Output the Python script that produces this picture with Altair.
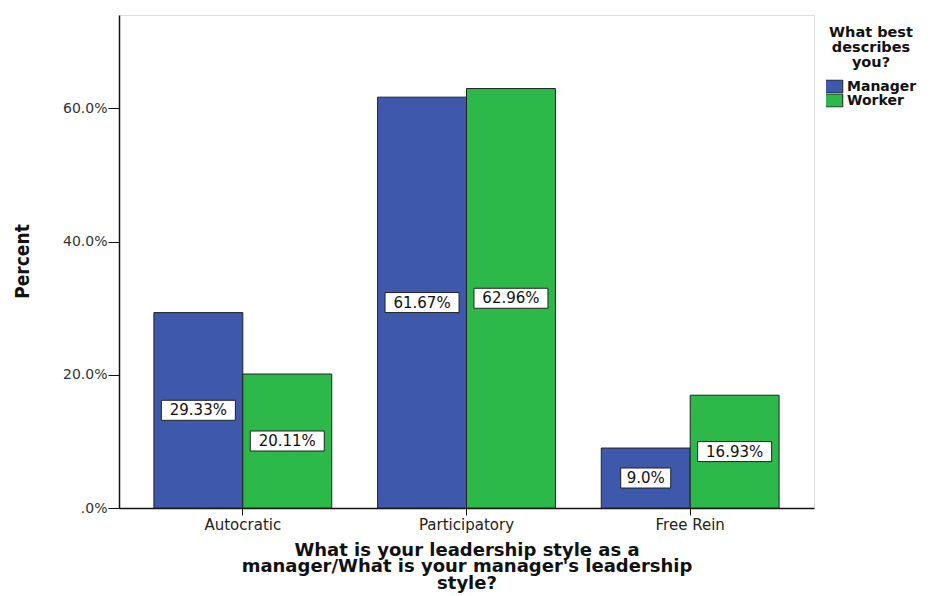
import altair as alt
import pandas as pd

styles = ["Autocratic", "Participatory", "Free Rein"]
groups = ["Manager", "Worker"]
manager_pct = [29.33, 61.67, 9.0]
worker_pct = [20.11, 62.96, 16.93]
manager_labels = ["29.33%", "61.67%", "9.0%"]
worker_labels = ["20.11%", "62.96%", "16.93%"]
y_ticks = [0, 20, 40, 60]
colors = ["#3E58AC", "#2DB84A"]

rows = []
for i, s in enumerate(styles):
    rows.append({"style": s, "group": "Manager", "pct": manager_pct[i], "label": manager_labels[i]})
    rows.append({"style": s, "group": "Worker", "pct": worker_pct[i], "label": worker_labels[i]})
df = pd.DataFrame(rows)


def box_path(text):
    w = (12 * len(text) + 2) / 100
    h = 0.2
    return f"M{-w},{-h}H{w}V{h}H{-w}Z"


df["box"] = df["label"].map(box_path)

FONT = "DejaVu Sans"
NARROW = "DejaVu Sans Condensed, Liberation Sans Narrow, Arial Narrow, sans-serif"

x_axis = alt.Axis(
    title=["What is your leadership style as a",
           "manager/What is your manager's leadership",
           "style?"],
    titleFont=FONT, titleFontSize=18, titleFontWeight="bold", titleColor="#111",
    titleLineHeight=16.5, titlePadding=9,
    labelFont=FONT, labelFontSize=15, labelColor="#222", labelAngle=0, labelPadding=2,
    tickSize=7, tickColor="#111", bandPosition=0.5,
    domainColor="#111", domainWidth=1.5, grid=False,
)
y_axis = alt.Axis(
    title="Percent", titleFont=NARROW, titleFontSize=19,
    titleFontWeight="bold", titleColor="#111", titleAngle=270,
    titleX=-97, titleY=246, titleAlign="center", titleBaseline="middle",
    values=y_ticks,
    labelExpr="datum.value == 0 ? '.0%' : format(datum.value, '.1f') + '%'",
    labelFont=FONT, labelFontSize=14, labelColor="#333", labelPadding=1,
    tickSize=11, tickColor="#111", domainColor="#111", domainWidth=1.5, grid=False,
)
x_scale = alt.Scale(paddingInner=0.205, paddingOuter=0.156)
y_scale = alt.Scale(domain=[0, 74], nice=False, zero=True)
xoff = alt.XOffset("group:N", sort=groups, scale=alt.Scale(paddingInner=0, paddingOuter=0))

base = alt.Chart(df).transform_calculate(mid="datum.pct / 2")

bars = base.mark_bar(stroke="#222", strokeWidth=1, opacity=1).encode(
    x=alt.X("style:N", sort=styles, scale=x_scale, axis=x_axis),
    xOffset=xoff,
    y=alt.Y("pct:Q", scale=y_scale, axis=y_axis),
    color=alt.Color(
        "group:N",
        scale=alt.Scale(domain=groups, range=colors),
        legend=alt.Legend(
            orient="none", legendX=707, legendY=11,
            title=["What best", "describes", "you?"],
            titleFont=FONT, titleFontSize=14.5, titleFontWeight="bold", titleColor="#111",
            titleAlign="center", titleAnchor="middle", titleLineHeight=15, titlePadding=9,
            labelFont=FONT, labelFontSize=14, labelFontWeight="bold", labelColor="#111",
            symbolType="M-1.5,-1H1.5V1H-1.5Z", symbolSize=169,
            symbolStrokeColor="#222", symbolStrokeWidth=1, symbolOpacity=1,
            labelOffset=7, rowPadding=0, clipHeight=14,
        ),
    ),
)

boxes = base.mark_point(filled=True, fill="white", stroke="#222", strokeWidth=1,
                        opacity=1, size=10000).encode(
    x=alt.X("style:N", sort=styles, scale=x_scale, axis=x_axis),
    xOffset=xoff,
    y=alt.Y("mid:Q", scale=y_scale, axis=y_axis),
    shape=alt.Shape("box:N", scale=None),
)

texts = base.mark_text(font=FONT, fontSize=15, color="#111", baseline="middle",
                       align="center").encode(
    x=alt.X("style:N", sort=styles, scale=x_scale, axis=x_axis),
    xOffset=xoff,
    y=alt.Y("mid:Q", scale=y_scale, axis=y_axis),
    text="label:N",
)

chart = alt.layer(bars, boxes, texts).properties(
    width=695, height=493,
    autosize=alt.AutoSizeParams(type="none"),
    padding={"left": 111, "top": 7, "right": 115, "bottom": 88},
).configure_view(
    fill="#F0F0F0", stroke="#666", strokeWidth=1.5,
).configure(background="white")

chart.save("out.html", embed_options={"renderer": "svg", "actions": False})
